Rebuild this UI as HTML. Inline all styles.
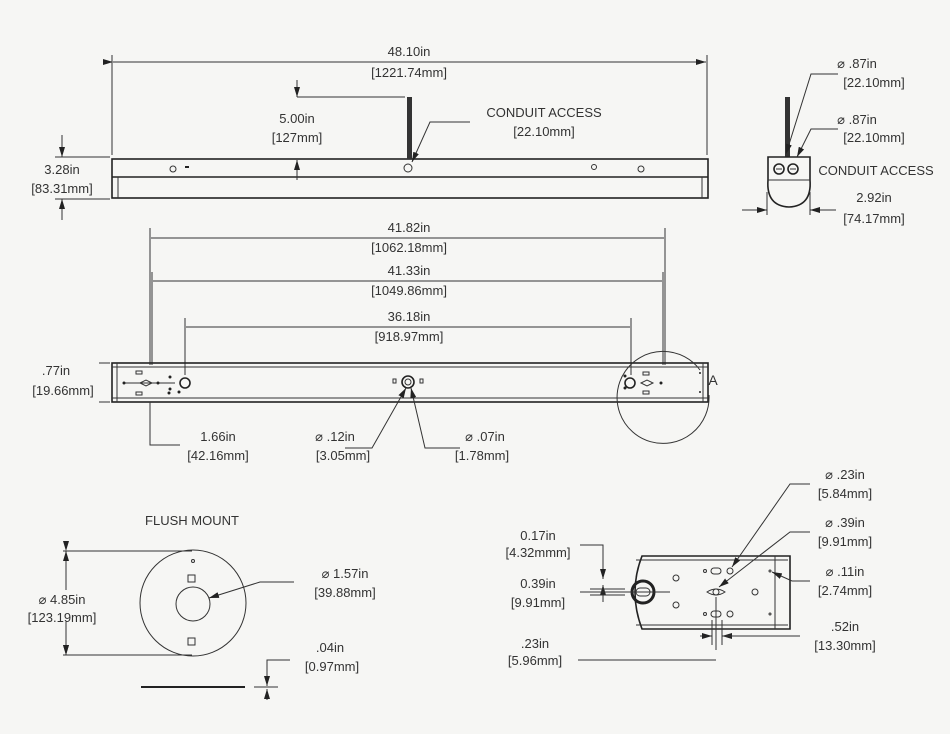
<!DOCTYPE html>
<html><head><meta charset="utf-8"><style>
html,body{margin:0;padding:0;background:#f6f6f4;}
svg{display:block;}
text{font-family:"Liberation Sans","DejaVu Sans",sans-serif;font-size:13px;fill:#333;text-anchor:middle;}
.l{stroke:#333;stroke-width:1;fill:none;}
.t{stroke:#222;stroke-width:1.6;fill:none;}
.f{fill:#222;}
</style></head><body>
<svg width="950" height="734" viewBox="0 0 950 734" xmlns="http://www.w3.org/2000/svg">
<defs>
<marker id="a" markerWidth="10" markerHeight="6" refX="10" refY="3" orient="auto" markerUnits="userSpaceOnUse"><path d="M0,0 L10,3 L0,6z" fill="#222"/></marker>
</defs>

<!-- TOP VIEW -->
<line class="l" x1="112" y1="55" x2="112" y2="155"/>
<line class="l" x1="707" y1="55" x2="707" y2="155"/>
<line class="l" x1="113" y1="62" x2="706" y2="62" marker-start="url(#a)" marker-end="url(#a)" style="marker-start:url(#a)"/>
<text x="409" y="56">48.10in</text>
<text x="409" y="77">[1221.74mm]</text>

<rect class="t" x="112" y="159" width="596" height="39"/>
<line class="t" x1="112" y1="177" x2="708" y2="177"/>
<line class="l" x1="118" y1="177" x2="118" y2="198"/><line class="l" x1="702" y1="177" x2="702" y2="198"/>
<rect x="407" y="97" width="5" height="62" fill="#333"/>
<circle class="l" cx="173" cy="169" r="3"/><rect x="173" y="164" width="4" height="2" class="f" transform="translate(12,2)"/>
<circle class="l" cx="408" cy="168" r="4"/>
<circle class="l" cx="594" cy="167" r="2.5"/><circle class="l" cx="641" cy="169" r="3"/>
<line class="l" x1="297" y1="97" x2="405" y2="97"/>
<line class="l" x1="297" y1="80" x2="297" y2="97" marker-end="url(#a)"/>
<line class="l" x1="297" y1="180" x2="297" y2="160" marker-end="url(#a)"/>
<text x="297" y="123">5.00in</text><text x="297" y="142">[127mm]</text>
<text x="544" y="117">CONDUIT ACCESS</text>
<text x="544" y="136">[22.10mm]</text>
<polyline class="l" points="470,122 430,122 412,162" marker-end="url(#a)"/>

<line class="l" x1="55" y1="157" x2="110" y2="157"/>
<line class="l" x1="55" y1="199" x2="110" y2="199"/>
<line class="l" x1="62" y1="135" x2="62" y2="157" marker-end="url(#a)"/>
<line class="l" x1="62" y1="220" x2="62" y2="199" marker-end="url(#a)"/>
<text x="62" y="174">3.28in</text><text x="62" y="193">[83.31mm]</text>

<!-- SIDE VIEW -->
<rect x="785" y="97" width="5" height="60" fill="#333"/>
<path class="t" d="M768,157 L810,157 L810,180 Q812,206 789,207 Q766,206 768,180 Z"/>
<line class="l" x1="768" y1="180" x2="810" y2="180"/>
<circle class="t" cx="779" cy="169" r="5"/><line class="l" x1="776" y1="169" x2="782" y2="169"/>
<circle class="t" cx="793" cy="169" r="5"/><line class="l" x1="790" y1="169" x2="796" y2="169"/>
<text x="857" y="68">⌀ .87in</text><text x="874" y="87">[22.10mm]</text>
<polyline class="l" points="838,74 811,74 786,154" marker-end="url(#a)"/>
<text x="857" y="124">⌀ .87in</text><text x="874" y="142">[22.10mm]</text>
<polyline class="l" points="838,129 811,129 797,157" marker-end="url(#a)"/>
<text x="876" y="175">CONDUIT ACCESS</text>
<line class="l" x1="767" y1="192" x2="767" y2="215"/><line class="l" x1="810" y1="192" x2="810" y2="215"/>
<line class="l" x1="742" y1="210" x2="767" y2="210" marker-end="url(#a)"/>
<line class="l" x1="836" y1="210" x2="810" y2="210" marker-end="url(#a)"/>
<text x="874" y="202">2.92in</text><text x="874" y="223">[74.17mm]</text>

<!-- BOTTOM VIEW -->
<line class="l" x1="150" y1="228" x2="150" y2="365"/>
<line class="l" x1="665" y1="228" x2="665" y2="365"/>
<line class="l" x1="152" y1="272" x2="152" y2="365"/>
<line class="l" x1="663" y1="272" x2="663" y2="365"/>
<line class="l" x1="185" y1="318" x2="185" y2="375"/>
<line class="l" x1="631" y1="318" x2="631" y2="375"/>
<line class="l" x1="151" y1="238" x2="664" y2="238"/>
<line class="l" x1="153" y1="281" x2="662" y2="281"/>
<line class="l" x1="186" y1="327" x2="630" y2="327"/>
<text x="409" y="232">41.82in</text><text x="409" y="252">[1062.18mm]</text>
<text x="409" y="275">41.33in</text><text x="409" y="295">[1049.86mm]</text>
<text x="409" y="321">36.18in</text><text x="409" y="341">[918.97mm]</text>

<rect class="t" x="112" y="363" width="596" height="39"/>
<line class="l" x1="112" y1="367" x2="708" y2="367"/><line class="l" x1="112" y1="398" x2="708" y2="398"/>
<line class="l" x1="117" y1="363" x2="117" y2="402"/><line class="l" x1="703" y1="363" x2="703" y2="402"/>
<circle class="t" cx="185" cy="383" r="5"/><circle class="t" cx="630" cy="383" r="5"/>
<circle class="t" cx="408" cy="382" r="6"/><circle class="l" cx="408" cy="382" r="3"/>
<rect class="l" x="393" y="379" width="3" height="4"/><rect class="l" x="420" y="379" width="3" height="4"/>
<path class="l" d="M123,383 H175 M140,383 l6,-3 6,3 -6,3z"/>
<circle class="f" cx="124" cy="383" r="1.5"/><circle class="f" cx="158" cy="383" r="1.5"/>
<circle class="f" cx="170" cy="377" r="1.5"/><circle class="f" cx="170" cy="389" r="1.5"/><circle class="f" cx="169" cy="393" r="1.5"/><circle class="f" cx="179" cy="392" r="1.5"/>
<rect class="l" x="136" y="371" width="6" height="3"/><rect class="l" x="136" y="392" width="6" height="3"/>
<rect class="l" x="643" y="372" width="6" height="3"/><rect class="l" x="643" y="391" width="6" height="3"/>
<path class="l" d="M641,383 l6,-3 6,3 -6,3z"/>
<circle class="f" cx="661" cy="383" r="1.5"/><circle class="f" cx="625" cy="376" r="1.5"/><circle class="f" cx="625" cy="388" r="1.5"/>
<circle class="f" cx="700" cy="373" r="1"/><circle class="f" cx="700" cy="392" r="1"/>
<path class="l" d="M700,370 A46,46 0 1 0 709,395"/>
<text x="713" y="385" style="font-size:14px">A</text>
<line class="l" x1="99" y1="363" x2="110" y2="363"/><line class="l" x1="99" y1="402" x2="110" y2="402"/>
<text x="56" y="375">.77in</text><text x="63" y="395">[19.66mm]</text>
<polyline class="l" points="150,402 150,445 180,445"/>
<text x="218" y="441">1.66in</text><text x="218" y="460">[42.16mm]</text>
<polyline class="l" points="345,448 372,448 406,388" marker-end="url(#a)"/>
<polyline class="l" points="460,448 425,448 411,388" marker-end="url(#a)"/>
<text x="335" y="441">⌀ .12in</text><text x="343" y="460">[3.05mm]</text>
<text x="485" y="441">⌀ .07in</text><text x="482" y="460">[1.78mm]</text>

<!-- FLUSH MOUNT -->
<text x="192" y="525">FLUSH MOUNT</text>
<circle class="l" cx="193" cy="603" r="53"/>
<circle class="l" cx="193" cy="604" r="17"/>
<circle class="l" cx="193" cy="561" r="1.5"/>
<rect class="l" x="188" y="575" width="7" height="7"/><rect class="l" x="188" y="638" width="7" height="7"/>
<line class="l" x1="63" y1="551" x2="192" y2="551"/><line class="l" x1="63" y1="655" x2="192" y2="655"/>
<line class="l" x1="66" y1="551" x2="66" y2="655" marker-start="url(#a)" marker-end="url(#a)"/>
<line class="l" x1="66" y1="600" x2="66" y2="551" marker-end="url(#a)"/>
<line class="l" x1="66" y1="600" x2="66" y2="655" marker-end="url(#a)"/>
<rect x="56" y="590" width="16" height="32" fill="#f6f6f4"/>
<text x="62" y="604">⌀ 4.85in</text><text x="62" y="622">[123.19mm]</text>
<polyline class="l" points="294,582 260,582 209,598" marker-end="url(#a)"/>
<text x="345" y="578">⌀ 1.57in</text><text x="345" y="597">[39.88mm]</text>
<line x1="141" y1="687" x2="245" y2="687" stroke="#222" stroke-width="2"/>
<line class="l" x1="254" y1="687" x2="278" y2="687"/>
<polyline class="l" points="290,660 267,660 267,686" marker-end="url(#a)"/>
<line class="l" x1="267" y1="700" x2="267" y2="689" marker-end="url(#a)"/>
<text x="330" y="652">.04in</text><text x="332" y="671">[0.97mm]</text>

<!-- DETAIL A -->
<path class="t" d="M642,556 L790,556 L790,629 L642,629 Q628,592 642,556 Z"/>
<line class="l" x1="636" y1="560" x2="788" y2="560"/><line class="l" x1="636" y1="625" x2="788" y2="625"/>
<line class="l" x1="775" y1="556" x2="775" y2="629"/>
<circle cx="643" cy="592" r="11" fill="none" stroke="#222" stroke-width="3"/>
<rect class="l" x="636" y="588" width="14" height="8" rx="4"/>
<line class="l" x1="625" y1="592" x2="670" y2="592"/>
<circle class="l" cx="676" cy="578" r="3"/><circle class="l" cx="676" cy="605" r="3"/>
<circle class="l" cx="705" cy="571" r="1.5"/><rect class="l" x="711" y="568" width="10" height="6" rx="3"/><circle class="l" cx="730" cy="571" r="3"/>
<circle class="l" cx="705" cy="614" r="1.5"/><rect class="l" x="711" y="611" width="10" height="6" rx="3"/><circle class="l" cx="730" cy="614" r="3"/>
<path class="l" d="M707,592 Q716,586 725,592 Q716,598 707,592z"/><circle class="l" cx="716" cy="592" r="3"/>
<circle class="l" cx="755" cy="592" r="3"/>
<circle class="l" cx="770" cy="571" r="1"/><circle class="l" cx="770" cy="614" r="1"/>
<polyline class="l" points="810,484 790,484 732,567" marker-end="url(#a)"/>
<text x="845" y="479">⌀ .23in</text><text x="845" y="498">[5.84mm]</text>
<polyline class="l" points="810,532 790,532 719,587" marker-end="url(#a)"/>
<text x="845" y="527">⌀ .39in</text><text x="845" y="546">[9.91mm]</text>
<polyline class="l" points="810,581 792,581 772,572" marker-end="url(#a)"/>
<text x="845" y="576">⌀ .11in</text><text x="845" y="595">[2.74mm]</text>
<line class="l" x1="716" y1="597" x2="716" y2="650"/>
<line class="l" x1="712" y1="620" x2="712" y2="645"/><line class="l" x1="722" y1="620" x2="722" y2="645"/>
<line class="l" x1="700" y1="636" x2="712" y2="636" marker-end="url(#a)"/>
<line class="l" x1="734" y1="636" x2="722" y2="636" marker-end="url(#a)"/>
<line class="l" x1="725" y1="636" x2="800" y2="636"/>
<text x="845" y="631">.52in</text><text x="845" y="650">[13.30mm]</text>
<polyline class="l" points="580,545 603,545 603,579" marker-end="url(#a)"/>
<line class="l" x1="603" y1="602" x2="603" y2="585" marker-end="url(#a)"/>
<line class="l" x1="590" y1="589" x2="625" y2="589"/><line class="l" x1="590" y1="595" x2="625" y2="595"/>
<line class="l" x1="580" y1="592" x2="625" y2="592"/>
<text x="538" y="540">0.17in</text><text x="538" y="557">[4.32mmm]</text>
<text x="538" y="588">0.39in</text><text x="538" y="607">[9.91mm]</text>
<line class="l" x1="578" y1="660" x2="716" y2="660"/>
<text x="535" y="648">.23in</text><text x="535" y="665">[5.96mm]</text>
</svg>
</body></html>
